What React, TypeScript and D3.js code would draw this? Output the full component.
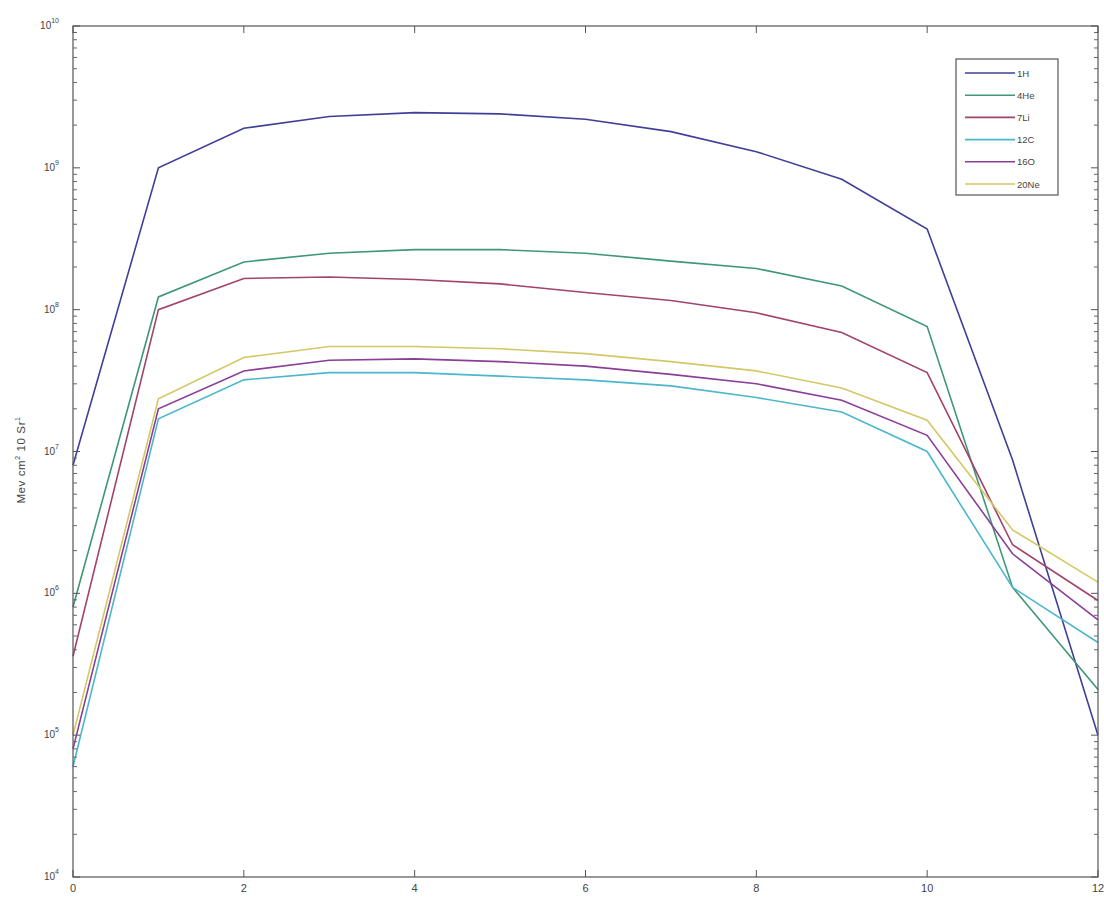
import React from 'react';
import { scaleLinear, scaleLog, line } from 'd3';

const width = 1104;
const height = 898;
const margin = { left: 73, right: 6, top: 26, bottom: 21 };

const xValues = [0, 1, 2, 3, 4, 5, 6, 7, 8, 9, 10, 11, 12];
const xTicks = [0, 2, 4, 6, 8, 10, 12];
const yExponents = [4, 5, 6, 7, 8, 9, 10];

const h1 = [8e6, 1.0e9, 1.9e9, 2.3e9, 2.45e9, 2.4e9, 2.2e9, 1.8e9, 1.3e9, 8.3e8, 3.7e8, 8.7e6, 1.0e5];
const he4 = [8e5, 1.23e8, 2.17e8, 2.5e8, 2.65e8, 2.65e8, 2.5e8, 2.2e8, 1.95e8, 1.47e8, 7.6e7, 1.1e6, 2.1e5];
const li7 = [3.6e5, 1.0e8, 1.66e8, 1.7e8, 1.63e8, 1.52e8, 1.32e8, 1.16e8, 9.5e7, 6.9e7, 3.6e7, 2.2e6, 8.9e5];
const c12 = [6e4, 1.7e7, 3.2e7, 3.6e7, 3.6e7, 3.4e7, 3.2e7, 2.9e7, 2.4e7, 1.9e7, 1.0e7, 1.1e6, 4.5e5];
const o16 = [8e4, 2.0e7, 3.7e7, 4.4e7, 4.5e7, 4.3e7, 4.0e7, 3.5e7, 3.0e7, 2.3e7, 1.3e7, 1.9e6, 6.5e5];
const ne20 = [1.0e5, 2.35e7, 4.6e7, 5.5e7, 5.5e7, 5.3e7, 4.9e7, 4.3e7, 3.7e7, 2.8e7, 1.66e7, 2.8e6, 1.2e6];

const seriesNames = ['1H', '4He', '7Li', '12C', '16O', '20Ne'];
const seriesValues = [h1, he4, li7, c12, o16, ne20];
const colors = ['#3f3f98', '#3e9878', '#a2436c', '#4cb6cc', '#8a3e98', '#d4c866'];

const x = scaleLinear().domain([0, 12]).range([margin.left, width - margin.right]);
const y = scaleLog().domain([1e4, 1e10]).range([height - margin.bottom, margin.top]);

const lineGen = line<number>()
  .x((_, i) => x(xValues[i]))
  .y((d) => y(d));

const minorTicks: number[] = [];
yExponents.slice(0, -1).forEach((e) => {
  for (let k = 2; k < 10; k++) minorTicks.push(k * Math.pow(10, e));
});

const App = () => {
  const x0 = x.range()[0];
  const x1 = x.range()[1];
  const y0 = y.range()[0];
  const y1 = y.range()[1];
  return (
    <svg width={width} height={height} style={{ position: 'absolute', left: 0, top: 0, background: '#fff' }}>
      <rect x={0} y={0} width={width} height={height} fill="#fff" />
      <g fontFamily="'Liberation Sans', Arial, sans-serif" fill="#444" fontSize={10}>
        {seriesValues.map((vals, i) => (
          <path key={i} d={lineGen(vals) || ''} fill="none" stroke={colors[i]} strokeWidth={1.6} />
        ))}

        {/* frame */}
        <rect x={x0} y={y1} width={x1 - x0} height={y0 - y1} fill="none" stroke="#555" strokeWidth={1.2} />

        {/* y ticks */}
        {yExponents.map((e) => (
          <g key={e}>
            <line x1={x0} x2={x0 + 7} y1={y(10 ** e)} y2={y(10 ** e)} stroke="#555" />
            <line x1={x1} x2={x1 - 7} y1={y(10 ** e)} y2={y(10 ** e)} stroke="#555" />
            <text x={x0 - 14} y={y(10 ** e) + 3} textAnchor="end" fontSize={10}>
              10
              <tspan dy={-6} fontSize={7}>{e}</tspan>
            </text>
          </g>
        ))}
        {minorTicks.map((v, i) => (
          <g key={i}>
            <line x1={x0} x2={x0 + 4} y1={y(v)} y2={y(v)} stroke="#666" />
            <line x1={x1} x2={x1 - 4} y1={y(v)} y2={y(v)} stroke="#666" />
          </g>
        ))}

        {/* x ticks */}
        {xTicks.map((t) => (
          <g key={t}>
            <line x1={x(t)} x2={x(t)} y1={y0} y2={y0 - 7} stroke="#555" />
            <line x1={x(t)} x2={x(t)} y1={y1} y2={y1 + 7} stroke="#555" />
            <text x={x(t)} y={y0 + 15} textAnchor="middle" fontSize={11}>
              {t}
            </text>
          </g>
        ))}

        {/* y label */}
        <text transform={`translate(25,460) rotate(-90)`} textAnchor="middle" fontSize={11.5} letterSpacing={0.6}>
          Mev cm
          <tspan dy={-5} fontSize={7}>2</tspan>
          <tspan dy={5}> 10 Sr</tspan>
          <tspan dy={-5} fontSize={7}>1</tspan>
        </text>

        {/* legend */}
        <rect x={956} y={59} width={102} height={136} fill="#fff" stroke="#555" strokeWidth={1.2} />
        {seriesNames.map((name, i) => {
          const ly = 73 + i * 22.2;
          return (
            <g key={name}>
              <line x1={965} x2={1015} y1={ly} y2={ly} stroke={colors[i]} strokeWidth={1.6} />
              <text x={1017} y={ly + 3.5} fontSize={9.5}>
                {name}
              </text>
            </g>
          );
        })}
      </g>
    </svg>
  );
};

export default App;
